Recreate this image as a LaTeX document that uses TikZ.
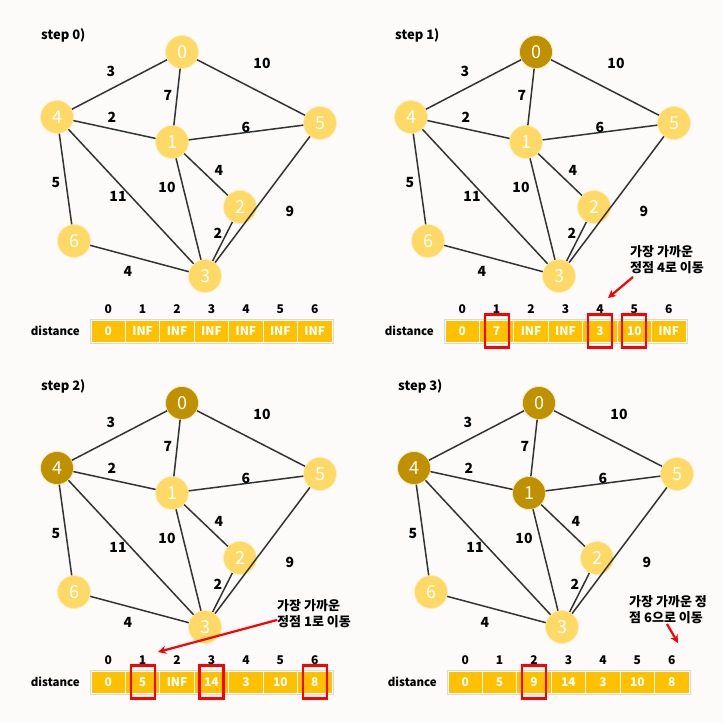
\documentclass[tikz,border=0pt]{standalone}
\usepackage{fontspec}
\setmainfont{Noto Sans CJK KR}
\usepackage{tikz}
\usetikzlibrary{arrows.meta}
\usepackage{xcolor}

\definecolor{bgcol}{HTML}{FCFBFA}
\definecolor{gold}{HTML}{FFD966}
\definecolor{dgold}{HTML}{BF9000}
\definecolor{cellcol}{HTML}{FFC000}
\definecolor{edgecol}{HTML}{333333}

\begin{document}
\begin{tikzpicture}[x=1pt,y=-1pt,
    vertex/.style={circle,minimum size=33pt,inner sep=0pt,draw=white!55!gold,line width=0.6pt,text=white,font=\fontsize{18}{18}\selectfont},
    link/.style={draw=edgecol,line width=1.5pt},
    weight/.style={font=\fontsize{14}{14}\selectfont\bfseries,inner sep=1pt},
    steptitle/.style={anchor=west,inner sep=0pt,font=\fontsize{13}{13}\selectfont\bfseries},
    cell/.style={fill=cellcol,draw=white,line width=0.8pt,minimum width=34.43pt,minimum height=22pt,inner sep=0pt,text=white,font=\fontsize{12}{12}\selectfont\bfseries},
    idx/.style={font=\fontsize{12}{12}\selectfont\bfseries,inner sep=1pt},
    pick/.style={draw=red,line width=2.2pt,minimum width=24pt,minimum height=33pt,inner sep=0pt},
    hint/.style={anchor=west,align=left,inner sep=0pt,font=\fontsize{13}{16}\selectfont\bfseries},
    pointer/.style={draw=red,line width=2.2pt,-{Stealth[length=8pt,width=8pt]}}]
    \useasboundingbox (0,0) rectangle (723,723);
    \fill[bgcol] (0,0) rectangle (723,723);

    % one panel per step
    \foreach \p/\dx/\dy/\k/\vals in {a/0/0/0/{0,INF,INF,INF,INF,INF,INF},
                                      b/354/0/1/{0,7,INF,INF,3,10,INF},
                                      c/0/351/2/{0,5,INF,14,3,10,8},
                                      d/357/351/3/{0,5,9,14,3,10,8}} {
      \begin{scope}[shift={(\dx,\dy)}]
        \node[steptitle] (\p-title) at (41,35) {step \k)};

        % vertices (second value: order in which the vertex is visited)
        \foreach \n/\r/\x/\y in {0/1/182/52, 1/3/172/142, 2/9/240/207, 3/9/205/276,
                                 4/2/57/117, 5/9/320/123, 6/9/74/241} {
          \ifnum\r>\k \def\vcol{gold}\else \def\vcol{dgold}\fi
          \node[vertex,fill=\vcol] (\p\n) at (\x,\y) {\n};
        }

        % edges
        \foreach \s/\t in {0/4,0/1,0/5,4/1,1/5,1/2,4/6,4/3,1/3,2/3,5/3,6/3}
          \draw[link] (\p\s) -- (\p\t);

        % weights
        \foreach \w/\x/\y [count=\i] in {3/111/71, 10/262/63, 7/168/95, 2/112/117,
                                         6/246/127, 4/219/170, 5/56/183, 11/118/196,
                                         10/167/187, 9/290/211, 2/218/233, 4/128/271}
          \node[weight] (\p-w\i) at (\x,\y) {\w};

        % distance table
        \node[anchor=east,inner sep=0pt,font=\fontsize{11.5}{11.5}\selectfont\bfseries] (\p-dist) at (80,331) {distance};
        \draw[gray!30,line width=1pt] (90,319) rectangle (333,343.5);
        \foreach \v [count=\i from 0] in \vals {
          \node[cell] (\p-c\i) at ({108.2+34.43*\i},331) {\v};
          \node[idx] (\p-i\i) at ({108.2+34.43*\i},309) {\i};
        }
      \end{scope}
    }

    % changed entries
    \foreach \c in {1,4,5}
      \node[pick] (b-pick\c) at (b-c\c) {};
    \foreach \c in {1,3,6}
      \node[pick] (c-pick\c) at (c-c\c) {};
    \node[pick] (d-pick2) at (d-c2) {};

    % notes
    \node[hint] (b-hint) at (630,259.5) {가장 가까운\\정점 4로 이동};
    \coordinate (b-from) at (633,277);
    \coordinate (b-to) at (608,298);
    \draw[pointer] (b-from) -- (b-to);

    \node[hint] (c-hint) at (277,614) {가장 가까운\\정점 1로 이동};
    \coordinate (c-from) at (277,620);
    \coordinate (c-to) at (158,652);
    \draw[pointer] (c-from) -- (c-to);

    \node[hint] (d-hint) at (629,609.5) {가장 가까운 정\\점 6으로 이동};
    \coordinate (d-from) at (667,624);
    \coordinate (d-to) at (678,643);
    \draw[pointer] (d-from) -- (d-to);
\end{tikzpicture}
\end{document}
